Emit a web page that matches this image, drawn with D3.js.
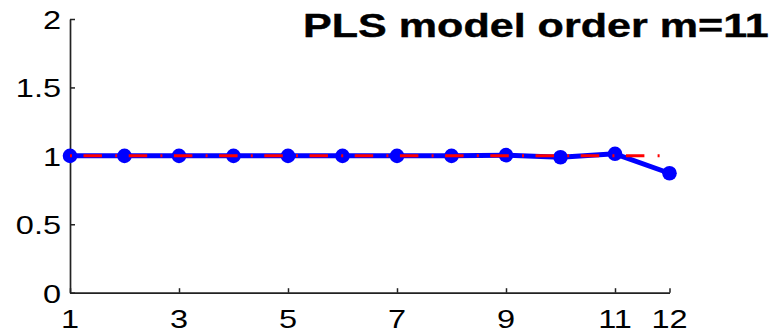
<!DOCTYPE html>
<html>
<head>
<meta charset="utf-8">
<script src="https://cdn.jsdelivr.net/npm/d3@7"></script>
<style>
  html, body { margin: 0; padding: 0; background: #fff; }
  svg { display: block; }
  text { font-family: "Liberation Sans", Arial, sans-serif; fill: #000; }
</style>
</head>
<body>
<svg id="chart" width="779" height="332"></svg>
<script>
// Model order index and normalised response for each order
const orders = [1, 2, 3, 4, 5, 6, 7, 8, 9, 10, 11, 12];
const response = [1.000, 1.000, 1.000, 1.000, 1.000, 1.000, 1.000, 1.000, 1.005, 0.990, 1.015, 0.873];
// Reference level drawn as a dash-dot line
const reference = [1, 1];
const referenceX = [1, 12];

const xTicks = [1, 3, 5, 7, 9, 11, 12];
const yTicks = [0, 0.5, 1, 1.5, 2];
const yTickLabels = ["0", "0.5", "1", "1.5", "2"];
const titleText = "PLS model order m=11";

const svg = d3.select("#chart");
const x = d3.scaleLinear().domain([1, 12]).range([70, 669.5]);
const y = d3.scaleLinear().domain([0, 2]).range([292.7, 19]);

const axisColor = "#222";
const labelStretch = 1.25;

// Axes: left and bottom spines, ticks pointing into the plot
const gx = svg.append("g").attr("transform", `translate(0,${y(0)})`)
  .call(d3.axisBottom(x).tickValues(xTicks).tickSizeInner(-4.5).tickSizeOuter(0).tickFormat(""));
const gy = svg.append("g").attr("transform", `translate(${x(1)},0)`)
  .call(d3.axisLeft(y).tickValues(yTicks).tickSizeInner(-5).tickSizeOuter(0).tickFormat(""));
[gx, gy].forEach(g => {
  g.select(".domain").attr("stroke", axisColor).attr("stroke-width", 1.7);
  g.selectAll(".tick line").attr("stroke", axisColor).attr("stroke-width", 1.5);
});

// Tick labels
svg.append("g").selectAll("text").data(xTicks).join("text")
  .attr("transform", d => `translate(${x(d)},327.5) scale(${labelStretch},1)`)
  .attr("text-anchor", "middle")
  .style("font-size", "26px")
  .text(d => d);
svg.append("g").selectAll("text").data(yTicks).join("text")
  .attr("transform", d => `translate(61,${y(d) + 10}) scale(${labelStretch},1)`)
  .attr("text-anchor", "end")
  .style("font-size", "26px")
  .text((d, i) => yTickLabels[i]);

// Response curve with markers
const pts = orders.map((o, i) => [o, response[i]]);
svg.append("path")
  .datum(pts)
  .attr("fill", "none")
  .attr("stroke", "#0000ff")
  .attr("stroke-width", 5)
  .attr("stroke-linejoin", "round")
  .attr("d", d3.line().x(d => x(d[0])).y(d => y(d[1])));
svg.append("g").selectAll("circle").data(pts).join("circle")
  .attr("cx", d => x(d[0]))
  .attr("cy", d => y(d[1]))
  .attr("r", 7.3)
  .attr("fill", "#0000ff");

// Reference level, dash-dot, on top
svg.append("path")
  .datum(referenceX.map((v, i) => [v, reference[i]]))
  .attr("fill", "none")
  .attr("stroke", "#ff0000")
  .attr("stroke-width", 3)
  .attr("stroke-dasharray", "2,11.5,18.5,13.2")
  .attr("d", d3.line().x(d => x(d[0])).y(d => y(d[1])));

// Title
svg.append("text")
  .attr("transform", `translate(303,37) scale(1.326,1)`)
  .style("font-size", "32.5px")
  .style("font-weight", "bold")
  .style("stroke", "#000")
  .style("stroke-width", 0.4)
  .text(titleText);
</script>
</body>
</html>
